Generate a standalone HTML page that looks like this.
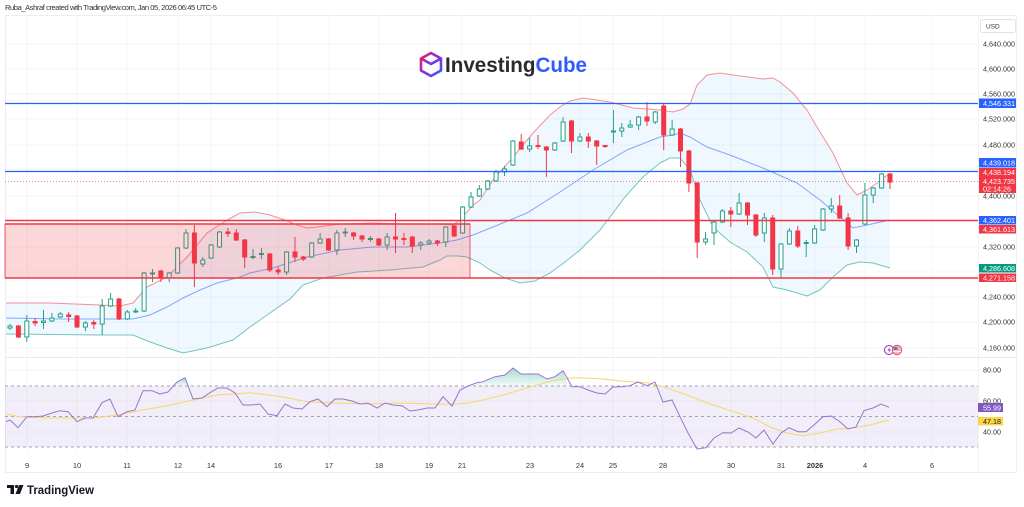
<!DOCTYPE html>
<html><head><meta charset="utf-8"><style>
html,body{margin:0;padding:0;background:#fff;}
svg{display:block;font-family:"Liberation Sans",sans-serif;}
</style></head><body>
<svg width="1024" height="507" viewBox="0 0 1024 507" xmlns="http://www.w3.org/2000/svg">
<rect width="1024" height="507" fill="#fff"/>
<text x="5" y="10" font-size="7.6" fill="#333" textLength="212">Ruba_Ashraf created with TradingView.com, Jan 05, 2026 06:45 UTC-5</text>
<!-- frame -->
<rect x="5.5" y="15.5" width="1011" height="457" fill="none" stroke="#eceef2"/>
<line x1="978.5" y1="15" x2="978.5" y2="473" stroke="#f0f1f4"/>
<line x1="5" y1="357.5" x2="1017" y2="357.5" stroke="#e6e8ee"/>
<!-- grid -->
<g stroke="#f5f5f7" stroke-width="1">
<line x1="5" x2="978" y1="44" y2="44"/><line x1="5" x2="978" y1="69" y2="69"/><line x1="5" x2="978" y1="94" y2="94"/><line x1="5" x2="978" y1="119" y2="119"/><line x1="5" x2="978" y1="145" y2="145"/><line x1="5" x2="978" y1="170" y2="170"/><line x1="5" x2="978" y1="196" y2="196"/><line x1="5" x2="978" y1="221" y2="221"/><line x1="5" x2="978" y1="247" y2="247"/><line x1="5" x2="978" y1="272" y2="272"/><line x1="5" x2="978" y1="297" y2="297"/><line x1="5" x2="978" y1="322" y2="322"/><line x1="5" x2="978" y1="348" y2="348"/>
<line x1="5" x2="978" y1="370" y2="370"/><line x1="5" x2="978" y1="401" y2="401"/><line x1="5" x2="978" y1="432" y2="432"/>
<line x1="27" x2="27" y1="15" y2="452"/><line x1="77" x2="77" y1="15" y2="452"/><line x1="127" x2="127" y1="15" y2="452"/><line x1="178" x2="178" y1="15" y2="452"/><line x1="211" x2="211" y1="15" y2="452"/><line x1="278" x2="278" y1="15" y2="452"/><line x1="329" x2="329" y1="15" y2="452"/><line x1="379" x2="379" y1="15" y2="452"/><line x1="429" x2="429" y1="15" y2="452"/><line x1="462" x2="462" y1="15" y2="452"/><line x1="530" x2="530" y1="15" y2="452"/><line x1="580" x2="580" y1="15" y2="452"/><line x1="613" x2="613" y1="15" y2="452"/><line x1="663" x2="663" y1="15" y2="452"/><line x1="731" x2="731" y1="15" y2="452"/><line x1="781" x2="781" y1="15" y2="452"/><line x1="815" x2="815" y1="15" y2="452"/><line x1="865" x2="865" y1="15" y2="452"/><line x1="932" x2="932" y1="15" y2="452"/>
</g>
<!-- logo -->
<defs><linearGradient id="cg" x1="0" y1="0" x2="1" y2="1"><stop offset="0" stop-color="#e0245e"/><stop offset="0.5" stop-color="#8a2be2"/><stop offset="1" stop-color="#2f5bff"/></linearGradient>
<linearGradient id="gf" x1="0" y1="0" x2="0" y2="1"><stop offset="0" stop-color="#089981" stop-opacity="0.35"/><stop offset="1" stop-color="#089981" stop-opacity="0.05"/></linearGradient></defs>
<g fill="none" stroke="url(#cg)" stroke-width="2.6" stroke-linejoin="round">
<polygon points="431,53 441,58.5 441,70.5 431,76 421,70.5 421,58.5"/>
<polyline points="421,58.5 431,64 441,58.5"/><line x1="431" y1="64" x2="431" y2="76"/>
</g>
<text x="445" y="72" font-size="21" font-weight="bold" fill="#2b2b2b" textLength="142" lengthAdjust="spacingAndGlyphs">Investing<tspan fill="#2f5bff">Cube</tspan></text>
<!-- bollinger fill -->
<polygon fill="#2196f3" fill-opacity="0.07" points="6,303 50,303 100,305 120,306 133,303 147,287 167,277 187,257 207,233 227,220 240,213 255,212 270,215 285,220 297,225 307,228 317,227 340,224 373,223 407,224 440,224 453,225 460,220 473,205 480,200 493,180 513,157 533,133 550,115 560,107 570,101 583,98 610,102 633,108 660,110 673,112 683,109 690,104 697,85 707,75 720,73 733,75 763,79 773,78 780,82 793,93 807,110 820,132 833,153 847,183 857,195 867,190 877,183 890,173 890,268 873,263 860,262 847,265 833,277 820,290 807,296 787,290 773,287 763,267 747,252 730,242 713,227 700,200 690,170 680,158 670,158 660,163 643,177 625,197 610,217 600,230 580,250 565,262 550,273 535,281 520,283 505,278 490,270 480,263 467,257 458,256 447,256 440,260 423,267 390,270 357,272 323,278 303,285 290,299 270,313 250,327 233,340 207,348 183,353 167,348 150,342 133,335 100,335 6,334"/>
<polyline fill="none" stroke="#f23645" stroke-opacity="0.55" stroke-width="1" points="6,303 50,303 100,305 120,306 133,303 147,287 167,277 187,257 207,233 227,220 240,213 255,212 270,215 285,220 297,225 307,228 317,227 340,224 373,223 407,224 440,224 453,225 460,220 473,205 480,200 493,180 513,157 533,133 550,115 560,107 570,101 583,98 610,102 633,108 660,110 673,112 683,109 690,104 697,85 707,75 720,73 733,75 763,79 773,78 780,82 793,93 807,110 820,132 833,153 847,183 857,195 867,190 877,183 890,173"/>
<polyline fill="none" stroke="#2962ff" stroke-opacity="0.55" stroke-width="1" points="6,318 60,319 133,319 150,315 167,307 183,298 200,290 217,283 240,277 250,273 273,268 307,257 340,250 373,247 407,247 440,243 457,240 473,235 493,227 527,213 560,192 593,170 627,150 660,137 673,135 680,133 690,137 707,147 730,155 763,168 797,183 820,200 840,217 853,228 867,225 890,220"/>
<polyline fill="none" stroke="#089981" stroke-opacity="0.55" stroke-width="1" points="6,334 100,335 133,335 150,342 167,348 183,353 207,348 233,340 250,327 270,313 290,299 303,285 323,278 357,272 390,270 423,267 440,260 447,256 458,256 467,257 480,263 490,270 505,278 520,283 535,281 550,273 565,262 580,250 600,230 610,217 625,197 643,177 660,163 670,158 680,158 690,170 700,200 713,227 730,242 747,252 763,267 773,287 787,290 807,296 820,290 833,277 847,265 860,262 873,263 890,268"/>
<!-- green candles -->
<g stroke="#22a08a" fill="#fff" stroke-width="1">
<line x1="10" x2="10" y1="324" y2="330"/><rect x="8" y="326" width="4" height="2"/>
<line x1="26.8" x2="26.8" y1="315" y2="342"/><rect x="24.8" y="321" width="4" height="16"/>
<line x1="43.5" x2="43.5" y1="310" y2="329"/><rect x="41.5" y="321" width="4" height="1.5"/>
<line x1="51.9" x2="51.9" y1="313" y2="322"/><rect x="49.9" y="318" width="4" height="3"/>
<line x1="60.3" x2="60.3" y1="312" y2="318"/><rect x="58.3" y="314" width="4" height="3"/>
<line x1="85.4" x2="85.4" y1="321" y2="331"/><rect x="83.4" y="323" width="4" height="4"/>
<line x1="102.2" x2="102.2" y1="299" y2="335"/><rect x="100.2" y="306" width="4" height="18"/>
<line x1="110.6" x2="110.6" y1="293" y2="307"/><rect x="108.6" y="299" width="4" height="7"/>
<line x1="127.3" x2="127.3" y1="310" y2="320"/><rect x="125.3" y="312" width="4" height="7"/>
<line x1="135.7" x2="135.7" y1="308" y2="313"/><rect x="133.7" y="311" width="4" height="1"/>
<line x1="144.1" x2="144.1" y1="272" y2="312"/><rect x="142.1" y="273" width="4" height="38"/>
<line x1="152.5" x2="152.5" y1="269" y2="282"/><rect x="150.5" y="273" width="4" height="1"/>
<line x1="169.2" x2="169.2" y1="272" y2="282"/><rect x="167.2" y="273" width="4" height="5"/>
<line x1="177.6" x2="177.6" y1="247" y2="274"/><rect x="175.6" y="248" width="4" height="25"/>
<line x1="186" x2="186" y1="229" y2="249"/><rect x="184" y="233" width="4" height="15"/>
<line x1="202.8" x2="202.8" y1="257" y2="267"/><rect x="200.8" y="260" width="4" height="4"/>
<line x1="211.1" x2="211.1" y1="244" y2="259"/><rect x="209.1" y="245" width="4" height="13"/>
<line x1="219.5" x2="219.5" y1="231" y2="248"/><rect x="217.5" y="232" width="4" height="15"/>
<line x1="253" x2="253" y1="249" y2="259"/><rect x="251" y="256.5" width="4" height="1"/>
<line x1="261.4" x2="261.4" y1="248" y2="259"/><rect x="259.4" y="253.5" width="4" height="1"/>
<line x1="286.6" x2="286.6" y1="251" y2="275"/><rect x="284.6" y="252" width="4" height="20"/>
<line x1="311.7" x2="311.7" y1="242" y2="258"/><rect x="309.7" y="243" width="4" height="14"/>
<line x1="320.1" x2="320.1" y1="233" y2="244"/><rect x="318.1" y="239" width="4" height="4"/>
<line x1="336.9" x2="336.9" y1="230" y2="255"/><rect x="334.9" y="233" width="4" height="17"/>
<line x1="345.2" x2="345.2" y1="228" y2="237"/><rect x="343.2" y="232" width="4" height="1"/>
<line x1="370.4" x2="370.4" y1="236" y2="242"/><rect x="368.4" y="238.5" width="4" height="1"/>
<line x1="387.1" x2="387.1" y1="233" y2="250"/><rect x="385.1" y="237" width="4" height="8"/>
<line x1="420.7" x2="420.7" y1="241" y2="250"/><rect x="418.7" y="243" width="4" height="2"/>
<line x1="429.1" x2="429.1" y1="239" y2="245"/><rect x="427.1" y="241" width="4" height="2"/>
<line x1="445.8" x2="445.8" y1="226" y2="247"/><rect x="443.8" y="227" width="4" height="15"/>
<line x1="462.6" x2="462.6" y1="206" y2="234"/><rect x="460.6" y="207" width="4" height="26"/>
<line x1="471" x2="471" y1="192" y2="208"/><rect x="469" y="197" width="4" height="10"/>
<line x1="479.3" x2="479.3" y1="185" y2="197"/><rect x="477.3" y="189" width="4" height="7"/>
<line x1="487.7" x2="487.7" y1="180" y2="190"/><rect x="485.7" y="181" width="4" height="8"/>
<line x1="496.1" x2="496.1" y1="170" y2="182"/><rect x="494.1" y="172" width="4" height="9"/>
<line x1="504.5" x2="504.5" y1="166" y2="176"/><rect x="502.5" y="169" width="4" height="3"/>
<line x1="512.9" x2="512.9" y1="140" y2="166"/><rect x="510.9" y="141" width="4" height="24"/>
<line x1="529.6" x2="529.6" y1="138" y2="152"/><rect x="527.6" y="146" width="4" height="3"/>
<line x1="554.8" x2="554.8" y1="142" y2="151"/><rect x="552.8" y="143" width="4" height="7"/>
<line x1="563.1" x2="563.1" y1="117" y2="142"/><rect x="561.1" y="122" width="4" height="19"/>
<line x1="579.9" x2="579.9" y1="133" y2="142"/><rect x="577.9" y="137" width="4" height="4"/>
<line x1="613.4" x2="613.4" y1="110" y2="143"/><rect x="611.4" y="131" width="4" height="1"/>
<line x1="621.8" x2="621.8" y1="123" y2="137"/><rect x="619.8" y="128" width="4" height="3"/>
<line x1="630.2" x2="630.2" y1="120" y2="128"/><rect x="628.2" y="125" width="4" height="2"/>
<line x1="638.6" x2="638.6" y1="116" y2="130"/><rect x="636.6" y="117" width="4" height="8"/>
<line x1="655.3" x2="655.3" y1="111" y2="124"/><rect x="653.3" y="112" width="4" height="10"/>
<line x1="672.1" x2="672.1" y1="120" y2="136"/><rect x="670.1" y="129" width="4" height="6"/>
<line x1="705.6" x2="705.6" y1="232" y2="245"/><rect x="703.6" y="239" width="4" height="3"/>
<line x1="714" x2="714" y1="221" y2="245"/><rect x="712" y="222" width="4" height="11"/>
<line x1="722.4" x2="722.4" y1="209" y2="223"/><rect x="720.4" y="211" width="4" height="11"/>
<line x1="739.1" x2="739.1" y1="193" y2="215"/><rect x="737.1" y="203" width="4" height="11"/>
<line x1="764.3" x2="764.3" y1="213" y2="242"/><rect x="762.3" y="218" width="4" height="15"/>
<line x1="781" x2="781" y1="243" y2="277"/><rect x="779" y="244" width="4" height="25"/>
<line x1="789.4" x2="789.4" y1="228" y2="245"/><rect x="787.4" y="231" width="4" height="13"/>
<line x1="806.2" x2="806.2" y1="240" y2="257"/><rect x="804.2" y="242.5" width="4" height="1"/>
<line x1="814.6" x2="814.6" y1="225" y2="244"/><rect x="812.6" y="229" width="4" height="14"/>
<line x1="823" x2="823" y1="208" y2="231"/><rect x="821" y="209" width="4" height="21"/>
<line x1="831.3" x2="831.3" y1="198" y2="213"/><rect x="829.3" y="206" width="4" height="3"/>
<line x1="856.5" x2="856.5" y1="239" y2="253"/><rect x="854.5" y="240" width="4" height="6"/>
<line x1="864.9" x2="864.9" y1="183" y2="225"/><rect x="862.9" y="195" width="4" height="29"/>
<line x1="873.2" x2="873.2" y1="187" y2="203"/><rect x="871.2" y="188" width="4" height="7"/>
<line x1="881.6" x2="881.6" y1="173" y2="189"/><rect x="879.6" y="174" width="4" height="14"/>
</g>
<!-- red candles -->
<g stroke="#f23645" fill="#f23645" stroke-width="1">
<line x1="18.4" x2="18.4" y1="325" y2="338"/><rect x="16.4" y="326" width="4" height="11"/>
<line x1="35.1" x2="35.1" y1="318" y2="326"/><rect x="33.1" y="321.5" width="4" height="1.5"/>
<line x1="68.7" x2="68.7" y1="312" y2="322"/><rect x="66.7" y="315" width="4" height="1.5"/>
<line x1="77" x2="77" y1="315" y2="328"/><rect x="75" y="316" width="4" height="11"/>
<line x1="93.8" x2="93.8" y1="320" y2="329"/><rect x="91.8" y="322.5" width="4" height="1.5"/>
<line x1="119" x2="119" y1="298" y2="320"/><rect x="117" y="299" width="4" height="20"/>
<line x1="160.9" x2="160.9" y1="270" y2="282"/><rect x="158.9" y="271" width="4" height="6"/>
<line x1="194.4" x2="194.4" y1="225" y2="287"/><rect x="192.4" y="233" width="4" height="30"/>
<line x1="227.9" x2="227.9" y1="228" y2="237"/><rect x="225.9" y="232" width="4" height="1.5"/>
<line x1="236.3" x2="236.3" y1="229" y2="241"/><rect x="234.3" y="233" width="4" height="7"/>
<line x1="244.7" x2="244.7" y1="239" y2="268"/><rect x="242.7" y="240" width="4" height="17"/>
<line x1="269.8" x2="269.8" y1="253" y2="272"/><rect x="267.8" y="254" width="4" height="16"/>
<line x1="278.2" x2="278.2" y1="267" y2="275"/><rect x="276.2" y="270" width="4" height="2"/>
<line x1="295" x2="295" y1="237" y2="262"/><rect x="293" y="252" width="4" height="5"/>
<line x1="303.3" x2="303.3" y1="256" y2="261"/><rect x="301.3" y="257" width="4" height="2"/>
<line x1="328.5" x2="328.5" y1="238" y2="251"/><rect x="326.5" y="239" width="4" height="11"/>
<line x1="353.6" x2="353.6" y1="232" y2="240"/><rect x="351.6" y="233" width="4" height="3"/>
<line x1="362" x2="362" y1="235" y2="242"/><rect x="360" y="236" width="4" height="3"/>
<line x1="378.8" x2="378.8" y1="238" y2="246"/><rect x="376.8" y="239" width="4" height="6"/>
<line x1="395.5" x2="395.5" y1="213" y2="253"/><rect x="393.5" y="237" width="4" height="2"/>
<line x1="403.9" x2="403.9" y1="233" y2="245"/><rect x="401.9" y="238.5" width="4" height="1"/>
<line x1="412.3" x2="412.3" y1="236" y2="253"/><rect x="410.3" y="237" width="4" height="9"/>
<line x1="437.4" x2="437.4" y1="240" y2="246"/><rect x="435.4" y="241" width="4" height="2"/>
<line x1="454.2" x2="454.2" y1="225" y2="237"/><rect x="452.2" y="226" width="4" height="10"/>
<line x1="521.2" x2="521.2" y1="134" y2="150"/><rect x="519.2" y="142" width="4" height="7"/>
<line x1="538" x2="538" y1="135" y2="149"/><rect x="536" y="145.5" width="4" height="1"/>
<line x1="546.4" x2="546.4" y1="146" y2="177"/><rect x="544.4" y="147" width="4" height="3"/>
<line x1="571.5" x2="571.5" y1="120" y2="153"/><rect x="569.5" y="121" width="4" height="20"/>
<line x1="588.3" x2="588.3" y1="133" y2="148"/><rect x="586.3" y="137" width="4" height="4"/>
<line x1="596.7" x2="596.7" y1="140" y2="165"/><rect x="594.7" y="141" width="4" height="5"/>
<line x1="605.1" x2="605.1" y1="145" y2="148"/><rect x="603.1" y="145.5" width="4" height="1"/>
<line x1="647" x2="647" y1="102" y2="126"/><rect x="645" y="117" width="4" height="4"/>
<line x1="663.7" x2="663.7" y1="103" y2="150"/><rect x="661.7" y="106" width="4" height="29"/>
<line x1="680.5" x2="680.5" y1="128" y2="167"/><rect x="678.5" y="129" width="4" height="22"/>
<line x1="688.9" x2="688.9" y1="150" y2="192"/><rect x="686.9" y="151" width="4" height="32"/>
<line x1="697.2" x2="697.2" y1="182" y2="258"/><rect x="695.2" y="183" width="4" height="59"/>
<line x1="730.8" x2="730.8" y1="207" y2="227"/><rect x="728.8" y="211" width="4" height="3"/>
<line x1="747.5" x2="747.5" y1="202" y2="225"/><rect x="745.5" y="203" width="4" height="12"/>
<line x1="755.9" x2="755.9" y1="214" y2="237"/><rect x="753.9" y="215" width="4" height="20"/>
<line x1="772.7" x2="772.7" y1="215" y2="275"/><rect x="770.7" y="218" width="4" height="51"/>
<line x1="797.8" x2="797.8" y1="226" y2="248"/><rect x="795.8" y="231" width="4" height="15"/>
<line x1="839.7" x2="839.7" y1="195" y2="219"/><rect x="837.7" y="206" width="4" height="12"/>
<line x1="848.1" x2="848.1" y1="213" y2="250"/><rect x="846.1" y="218" width="4" height="28"/>
<line x1="890" x2="890" y1="173" y2="189"/><rect x="888" y="174" width="4" height="8"/>
</g>
<!-- box -->
<rect x="5" y="224" width="465" height="54" fill="#f23645" fill-opacity="0.2" stroke="#f23645" stroke-opacity="0.8" stroke-width="1"/>
<line x1="5" x2="470" y1="224" y2="224" stroke="#f23645" stroke-width="1.5"/>
<!-- horizontal lines -->
<line x1="5" x2="978" y1="103.5" y2="103.5" stroke="#2962ff" stroke-width="1.2"/>
<line x1="5" x2="978" y1="171.5" y2="171.5" stroke="#2962ff" stroke-width="1.2"/>
<line x1="5" x2="978" y1="220.5" y2="220.5" stroke="#f23645" stroke-width="1.5"/>
<line x1="5" x2="978" y1="278" y2="278" stroke="#f23645" stroke-width="1.5"/>
<line x1="5" x2="978" y1="181.5" y2="181.5" stroke="#f23645" stroke-opacity="0.6" stroke-width="1" stroke-dasharray="1 2"/>
<!-- event icons -->
<circle cx="889" cy="350" r="4.5" fill="#fff" stroke="#9c27b0" stroke-width="1"/>
<path d="M890 346.5 L887.5 350.5 L889.5 350.5 L888.5 353.5 L891 349.5 L889 349.5 Z" fill="#9c27b0"/>
<circle cx="897" cy="350" r="4.8" fill="#f7b4bb" stroke="#f23645" stroke-width="0.8"/>
<rect x="893.5" y="347" width="4" height="3" fill="#5b7bd5"/>
<line x1="893" x2="901" y1="351.5" y2="351.5" stroke="#fff" stroke-width="0.8"/>
<!-- RSI -->
<rect x="5" y="386" width="973" height="61" fill="#7e57c2" fill-opacity="0.1"/>
<g stroke="#a3a6af" stroke-width="1" stroke-dasharray="3 3">
<line x1="5" x2="978" y1="386" y2="386"/><line x1="5" x2="978" y1="416.5" y2="416.5"/><line x1="5" x2="978" y1="447" y2="447"/>
</g>
<polygon fill="url(#gf)" points="468,386 477,382.7 483,381.7 495,376.7 505,375 513,368 521,374 529,374 538,374 547,379 555,376.7 563,370.7 568,386"/>
<polygon fill="url(#gf)" points="171,386 177,382 185,377.7 189,386"/>
<polyline fill="none" stroke="#f7d56a" stroke-width="1" points="6,414 20,416.7 50,418 93,418 117,415 143,410 167,405.7 193,400 217,395 250,392.7 283,397 307,401.7 333,403 367,404 400,403 433,404 457,404 470,402.7 487,399 503,395 520,390 537,385 553,380.7 570,378 580,377.7 603,379 620,381 647,382.7 663,386.7 687,395 710,404 737,412.7 753,418 770,427 787,433 803,435.7 820,433 837,429 853,428 870,425 889,420"/>
<polyline fill="none" stroke="#9575cd" stroke-width="1" points="6,421.7 10,420 18,427.7 27,416.7 35,416.7 43,416 52,413 60,410.7 68,411.7 77,421.7 85,418 93,418 102,402.7 110,399 118,416.7 127,411.7 135,410 143,390.7 152,390.7 160,394 168,392 177,382 185,377.7 193,399 202,398 210,392.7 218,388 227,388 235,393 243,405 252,405 260,404 268,414 277,415.7 285,404 293,408 302,409 310,401.7 318,399 327,406.7 335,399 343,399 352,401 360,404 368,403 377,408 385,403 393,405 402,405.7 410,411 418,410 427,408 435,408 443,396.7 452,406 460,390 468,386 477,382.7 483,381.7 495,376.7 505,375 513,368 521,374 529,374 538,374 547,379 555,376.7 563,370.7 572,386.7 580,386.7 588,390 597,393 605,394 613,387 622,386.7 630,385.7 638,382 647,385.7 655,382 663,402 672,400 680,416.7 688,433 697,449 706,447.7 714,438 723,432.7 731,433 739,428 748,432 756,438 764,430 773,444 781,433 789,427.7 798,431.7 806,431.7 814,425 823,416.7 831,416 839,421 848,429 856,427 864,410.7 873,408 881,404 889,407.3"/>
<!-- price axis -->
<rect x="980.5" y="19.5" width="35" height="13" rx="2" fill="#fff" stroke="#e0e3eb"/>
<text x="986" y="28.5" font-size="6.5" fill="#333">USD</text>
<g font-size="7.2" fill="#333">
<text x="983" y="46.5">4,640.000</text><text x="983" y="71.5">4,600.000</text><text x="983" y="96.5">4,560.000</text><text x="983" y="121.5">4,520.000</text><text x="983" y="147.5">4,480.000</text><text x="983" y="198.5">4,400.000</text><text x="983" y="249.5">4,320.000</text><text x="983" y="299.5">4,240.000</text><text x="983" y="324.5">4,200.000</text><text x="983" y="350.5">4,160.000</text>
<text x="983" y="372.5">80.00</text><text x="983" y="403.5">60.00</text><text x="983" y="434.5">40.00</text>
</g>
<g font-size="7.2" fill="#fff">
<rect x="979" y="98.5" width="37" height="9.5" fill="#2962ff"/><text x="983" y="106">4,546.331</text>
<rect x="979" y="158" width="37" height="9.5" fill="#2962ff"/><text x="983" y="165.5">4,439.018</text>
<rect x="979" y="168" width="37" height="25" fill="#f23645"/><text x="983" y="175">4,438.194</text><text x="983" y="184">4,423.735</text><text x="983" y="191.5">02:14:26</text>
<rect x="979" y="216" width="37" height="8.5" fill="#2962ff"/><text x="983" y="223">4,362.401</text>
<rect x="979" y="225" width="37" height="8.5" fill="#f23645"/><text x="983" y="232">4,361.613</text>
<rect x="979" y="264" width="37" height="8.5" fill="#089981"/><text x="983" y="271">4,286.608</text>
<rect x="979" y="273.5" width="37" height="8.5" fill="#f23645"/><text x="983" y="280.5">4,271.158</text>
<rect x="978" y="403" width="25" height="9" fill="#7e57c2"/><text x="983" y="410.3">55.99</text>
<rect x="978" y="417" width="25" height="8.5" fill="#fbd54a"/><text x="983" y="424" fill="#222">47.18</text>
</g>
<!-- time axis -->
<g font-size="7.4" fill="#333" text-anchor="middle">
<text x="27" y="468">9</text><text x="77" y="468">10</text><text x="127" y="468">11</text><text x="178" y="468">12</text><text x="211" y="468">14</text><text x="278" y="468">16</text><text x="329" y="468">17</text><text x="379" y="468">18</text><text x="429" y="468">19</text><text x="462" y="468">21</text><text x="530" y="468">23</text><text x="580" y="468">24</text><text x="613" y="468">25</text><text x="663" y="468">28</text><text x="731" y="468">30</text><text x="781" y="468">31</text><text x="815" y="468" font-weight="bold">2026</text><text x="865" y="468">4</text><text x="932" y="468">6</text>
</g>
<!-- TradingView logo -->
<g fill="#131722">
<rect x="7" y="485" width="7" height="3"/><rect x="10.5" y="485" width="3.5" height="9"/>
<circle cx="16.5" cy="486.5" r="1.6"/>
<polygon points="19,485 23.5,485 20,494 15.5,494"/>
</g>
<text x="27" y="494" font-size="12" font-weight="bold" fill="#131722" textLength="67" lengthAdjust="spacingAndGlyphs">TradingView</text>
</svg>
</body></html>
